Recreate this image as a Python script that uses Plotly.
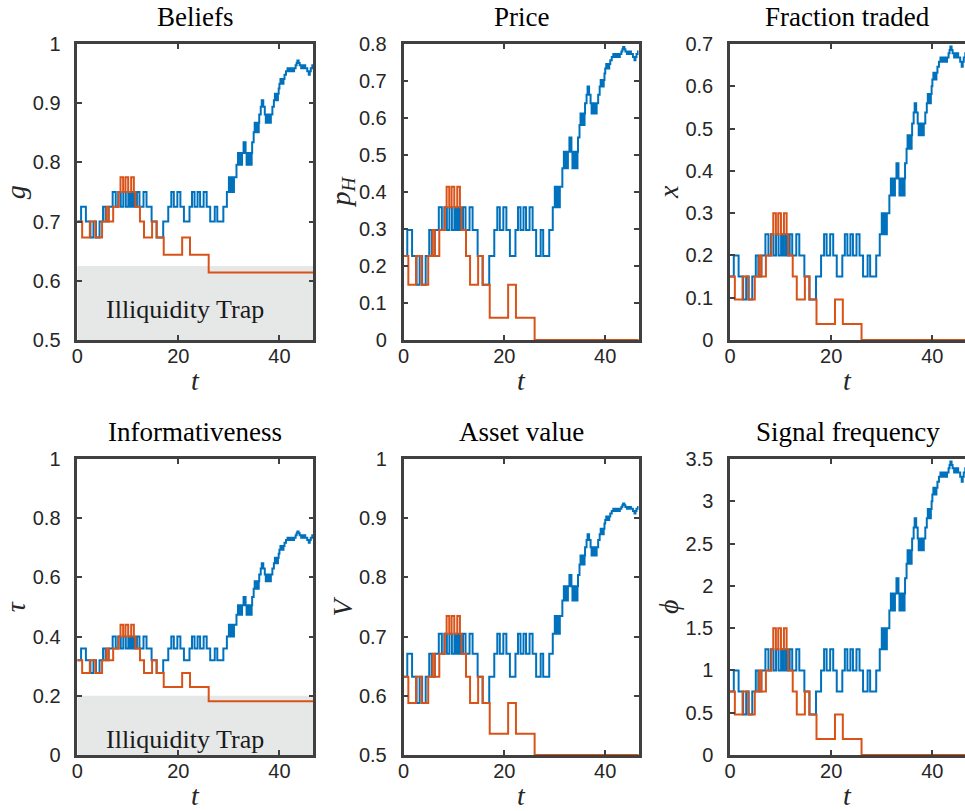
import plotly.graph_objects as go

W, H = 965, 811

# ---- data -----------------------------------------------------------------
# step paths: (time of switch, belief-level index after the switch)
BLUE_PATH = [
    (0.0, 0), (0.75, 1), (1.7, 0), (2.6, -1), (3.2, 0), (3.7, -1), (4.4, 0),
    (5.1, 1), (5.6, 0), (6.2, 1), (7.0, 2), (7.6, 1), (8.1, 2), (8.6, 1),
    (9.1, 2), (9.6, 1), (10.1, 2), (10.5, 1), (10.9, 2), (11.3, 1), (11.8, 2),
    (12.3, 1), (13.1, 2), (13.7, 1), (14.7, 0), (15.7, -1), (17.0, 0),
    (18.0, 1), (18.6, 2), (19.1, 1), (19.8, 2), (20.4, 1), (21.1, 0),
    (22.2, 1), (22.7, 2), (23.2, 1), (23.8, 2), (24.3, 1), (25.0, 2),
    (25.6, 1), (26.3, 0), (27.2, 1), (27.7, 0), (28.9, 1), (29.6, 2),
    (30.0, 3), (30.3, 2), (30.6, 3), (30.8, 2), (31.0, 3), (31.5, 4),
    (31.8, 5), (32.0, 4), (32.2, 5), (32.4, 4), (32.6, 5), (32.9, 6),
    (33.3, 5), (33.5, 4), (33.7, 5), (33.9, 4), (34.1, 5), (34.3, 4),
    (34.5, 5), (34.6, 6), (34.9, 7), (35.1, 8), (35.3, 7), (35.5, 8),
    (35.7, 7), (35.9, 8), (36.0, 9), (36.3, 10), (36.5, 11), (36.8, 10),
    (37.1, 9), (37.3, 8), (37.5, 9), (37.7, 8), (37.9, 9), (38.1, 8),
    (38.3, 9), (38.6, 10), (38.9, 11), (39.1, 12), (39.25, 11), (39.4, 12),
    (39.55, 11), (39.7, 12), (39.85, 13), (40.0, 14), (40.2, 15), (40.6, 14),
    (40.8, 15), (41.0, 16), (41.3, 17), (41.6, 18), (41.8, 17), (42.0, 18),
    (42.2, 17), (42.4, 18), (42.7, 17), (42.9, 18), (43.2, 19), (43.4, 20),
    (43.55, 21), (43.8, 20), (44.0, 19), (44.3, 18), (44.5, 19), (44.7, 18),
    (44.9, 19), (45.1, 18), (45.5, 17), (45.8, 16), (46.0, 17), (46.2, 18),
    (46.5, 19), (47.0, 19),
]
RED_PATH = [
    (0.0, 0), (0.96, -1), (2.48, 0), (3.6, -1), (4.9, 0), (5.77, 1), (6.2, 0),
    (7.1, 1), (8.2, 2), (8.55, 3), (9.07, 2), (9.54, 3), (10.07, 2),
    (10.66, 3), (11.19, 2), (11.5, 1), (12.4, 0), (13.2, -1), (14.8, 0),
    (15.7, -1), (17.1, -2), (20.75, -1), (22.3, -2), (26.0, -3), (47.0, -3),
]

# value of each variable at belief levels -3 .. 21
LEVEL_MIN = -3
G_LEVELS = [0.614, 0.644, 0.673, 0.700, 0.725, 0.750, 0.775, 0.796, 0.816,
            0.834, 0.851, 0.867, 0.881, 0.894, 0.905, 0.916, 0.925, 0.933,
            0.941, 0.948, 0.954, 0.959, 0.964, 0.968, 0.972]
P_LEVELS = [0.0, 0.060, 0.149, 0.227, 0.297, 0.359, 0.414, 0.464, 0.509,
            0.547, 0.581, 0.612, 0.640, 0.663, 0.685, 0.703, 0.720, 0.734,
            0.746, 0.756, 0.765, 0.773, 0.780, 0.786, 0.792]
X_LEVELS = [0.0, 0.038, 0.096, 0.150, 0.200, 0.250, 0.300, 0.342, 0.382,
            0.418, 0.452, 0.484, 0.512, 0.538, 0.560, 0.582, 0.600, 0.616,
            0.632, 0.646, 0.658, 0.668, 0.678, 0.686, 0.694]
TAU_LEVELS = [0.182, 0.230, 0.277, 0.320, 0.360, 0.400, 0.440, 0.474, 0.506,
              0.534, 0.562, 0.587, 0.610, 0.630, 0.648, 0.666, 0.680, 0.693,
              0.706, 0.717, 0.726, 0.734, 0.742, 0.749, 0.755]
V_LEVELS = [0.500, 0.536, 0.588, 0.632, 0.671, 0.705, 0.735, 0.761, 0.785,
            0.804, 0.822, 0.837, 0.851, 0.863, 0.873, 0.882, 0.891, 0.897,
            0.903, 0.908, 0.912, 0.916, 0.919, 0.922, 0.925]
PHI_LEVELS = [0.0, 0.19, 0.48, 0.75, 1.00, 1.25, 1.50, 1.71, 1.91, 2.09,
              2.26, 2.42, 2.56, 2.69, 2.80, 2.91, 3.00, 3.08, 3.16, 3.23,
              3.29, 3.34, 3.39, 3.43, 3.47]

TITLES = ["Beliefs", "Price", "Fraction traded",
          "Informativeness", "Asset value", "Signal frequency"]
YLABELS = ["<i>g</i>", "<i>p</i><sub><i>H</i></sub>", "<i>x</i>",
           "<i>τ</i>", "<i>V</i>", "<i>ϕ</i>"]
YTICKS = [
    ([0.5, 0.6, 0.7, 0.8, 0.9, 1.0], ["0.5", "0.6", "0.7", "0.8", "0.9", "1"]),
    ([0, .1, .2, .3, .4, .5, .6, .7, .8], ["0", "0.1", "0.2", "0.3", "0.4", "0.5", "0.6", "0.7", "0.8"]),
    ([0, .1, .2, .3, .4, .5, .6, .7], ["0", "0.1", "0.2", "0.3", "0.4", "0.5", "0.6", "0.7"]),
    ([0, .2, .4, .6, .8, 1.0], ["0", "0.2", "0.4", "0.6", "0.8", "1"]),
    ([0.5, 0.6, 0.7, 0.8, 0.9, 1.0], ["0.5", "0.6", "0.7", "0.8", "0.9", "1"]),
    ([0, .5, 1, 1.5, 2, 2.5, 3, 3.5], ["0", "0.5", "1", "1.5", "2", "2.5", "3", "3.5"]),
]
YRANGES = [[0.5, 1.0], [0, 0.8], [0, 0.7], [0, 1.0], [0.5, 1.0], [0, 3.5]]
LEVEL_TABLES = [G_LEVELS, P_LEVELS, X_LEVELS, TAU_LEVELS, V_LEVELS, PHI_LEVELS]
XTICKS = [0, 20, 40]
TRAP_LABEL = "Illiquidity Trap"
TRAP_TOP = {0: 0.625, 3: 0.2}     # panel index -> top of shaded region
TRAP_TEXT_Y = {0: 0.552, 3: 0.053}

# ---- layout geometry (pixels) ---------------------------------------------
COL_X = [(77.3, 313.3), (403.5, 638.5), (730.0, 965.0)]
ROW_Y = [(44.0, 340.0), (459.0, 755.0)]
XMAX = [46.7, 46.6, 46.45]

BLUE = "#0072BD"
RED = "#D95319"
AX = "#404040"
TXT = "#262626"
SERIF = "Liberation Serif, Times New Roman, serif"
SANS = "Liberation Sans, Arial, Helvetica, sans-serif"

fig = go.Figure()
annotations = []
shapes = []

for i in range(6):
    r, c = divmod(i, 3)
    n = i + 1
    xa = "x" if n == 1 else f"x{n}"
    ya = "y" if n == 1 else f"y{n}"
    xl, xr = COL_X[c]
    yt, yb = ROW_Y[r]
    table = LEVEL_TABLES[i]

    if i in TRAP_TOP:
        shapes.append(dict(type="rect", xref=xa, yref=ya, x0=0, x1=XMAX[c],
                           y0=YRANGES[i][0], y1=TRAP_TOP[i], layer="below",
                           fillcolor="#e6e7e7", line=dict(width=0)))
        annotations.append(dict(xref=xa, yref=ya, x=21.3, y=TRAP_TEXT_Y[i],
                                text=TRAP_LABEL, showarrow=False,
                                xanchor="center", yanchor="middle",
                                font=dict(family=SERIF, size=26, color="#1a1a1a")))

    for path, color in ((BLUE_PATH, BLUE), (RED_PATH, RED)):
        ts = [p[0] for p in path]
        vs = [table[p[1] - LEVEL_MIN] for p in path]
        fig.add_trace(go.Scatter(x=ts, y=vs, mode="lines", xaxis=xa, yaxis=ya,
                                 line=dict(color=color, width=2, shape="hv"),
                                 showlegend=False, hoverinfo="skip"))

    axcommon = dict(showline=True, linecolor=AX, linewidth=2.5, ticks="inside",
                    ticklen=5, tickwidth=2, tickcolor=AX, showgrid=False,
                    zeroline=False, automargin=False,
                    tickfont=dict(family=SANS, size=20, color=TXT))
    fig.update_layout(**{
        ("xaxis" if n == 1 else f"xaxis{n}"): dict(
            axcommon, domain=[xl / W, xr / W], range=[0, XMAX[c]],
            tickvals=XTICKS, ticktext=[str(v) for v in XTICKS],
            mirror="ticks", anchor=ya, ticklabelstandoff=-4),
        ("yaxis" if n == 1 else f"yaxis{n}"): dict(
            axcommon, domain=[1 - yb / H, 1 - yt / H], range=YRANGES[i],
            tickvals=YTICKS[i][0], ticktext=YTICKS[i][1],
            mirror=("ticks" if c < 2 else False), anchor=xa,
            ticklabelstandoff=10),
    })

    cx = (xl + xr) / 2
    annotations.append(dict(xref="paper", yref="paper", x=cx / W,
                            y=1 - (yt - 27) / H, xanchor="center",
                            text=TITLES[i], showarrow=False, yanchor="middle",
                            font=dict(family=SERIF, size=27, color="#000000")))
    annotations.append(dict(xref="paper", yref="paper", x=cx / W,
                            y=1 - (yb + 40) / H, text="<i>t</i>", showarrow=False,
                            xanchor="center", yanchor="middle",
                            font=dict(family=SERIF, size=28, color=TXT)))
    annotations.append(dict(xref="paper", yref="paper", x=(xl - 62) / W,
                            y=1 - ((yt + yb) / 2) / H, text=YLABELS[i],
                            showarrow=False, textangle=-90, xanchor="center",
                            yanchor="middle",
                            font=dict(family=SERIF, size=28, color=TXT)))

fig.update_layout(width=W, height=H, margin=dict(l=0, r=0, t=0, b=0),
                  paper_bgcolor="white", plot_bgcolor="white",
                  annotations=annotations, shapes=shapes, showlegend=False)

fig.write_html("out.html")
